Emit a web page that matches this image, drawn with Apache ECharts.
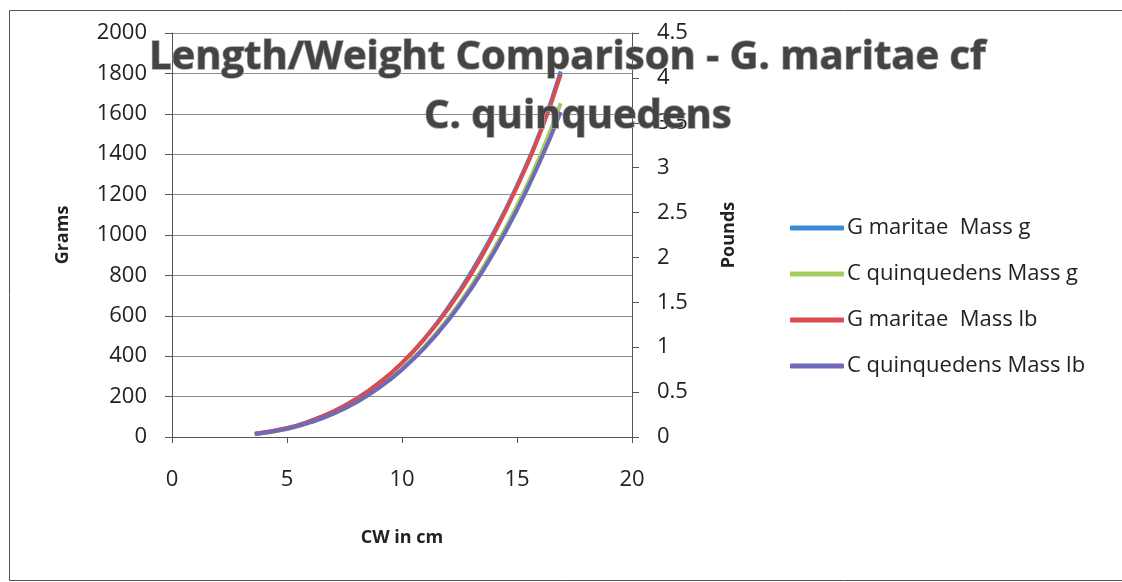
<!DOCTYPE html>
<html>
<head>
<meta charset="utf-8">
<script src="https://cdn.jsdelivr.net/npm/echarts@6/dist/echarts.min.js"></script>
<style>
html,body{margin:0;padding:0;background:#fff;}
#chart{width:1122px;height:582px;}
</style>
</head>
<body>
<div id="chart"></div>
<script>
// Carapace width (cm)
const cw = [3.6, 5, 6, 7, 8, 9, 10, 11, 12, 13, 14, 15, 16, 16.9];
// Mass values
const gMaritaeG = [15, 42, 78, 125, 188, 268, 366, 490, 640, 815, 1015, 1245, 1510, 1810];
const cQuinquedensG = [14, 40, 72, 115, 172, 246, 338, 450, 586, 746, 930, 1144, 1390, 1652];
const gMaritaeLb = [0.035, 0.10, 0.178, 0.283, 0.422, 0.60, 0.825, 1.10, 1.425, 1.81, 2.265, 2.785, 3.38, 4.04];
const cQuinquedensLb = [0.033, 0.092, 0.162, 0.257, 0.384, 0.547, 0.75, 0.998, 1.296, 1.648, 2.058, 2.53, 3.07, 3.62];
const seriesNames = ['G maritae  Mass g', 'C quinquedens Mass g', 'G maritae  Mass lb', 'C quinquedens Mass lb'];
const titleLine1 = 'Length/Weight Comparison - G. maritae cf';
const titleLine2 = 'C. quinquedens';

const pair = (xs, ys) => xs.map((x, i) => [x, ys[i]]);
const FONT = "'Open Sans', sans-serif";
const colors = ['#3B8BD9', '#A3CC5A', '#DC4B4F', '#6E6AB8'];

const chart = echarts.init(document.getElementById('chart'), null, {renderer: 'canvas'});
const axisCol = '#555';
const titleStyle = {
  fontFamily: FONT, fontWeight: 'bold', fontSize: 40, color: '#444',
  textBorderColor: '#a0a0a0', textBorderWidth: 1.5
};
const labelStyle = {fontFamily: FONT, fontSize: 22, color: '#222'};
const nameStyle = {fontFamily: FONT, fontWeight: 'bold', fontSize: 18, color: '#222'};
chart.setOption({
  animation: false,
  backgroundColor: '#fff',
  color: colors,
  graphic: [{
    type: 'rect', left: 7, top: 8, z: -10,
    shape: {width: 1130, height: 570},
    style: {fill: 'none', stroke: '#555', lineWidth: 1}
  }],
  title: [
    {text: titleLine1, left: 149, top: 38, padding: 0, textStyle: titleStyle, z: 10},
    {text: titleLine2, left: 424, top: 97, padding: 0, textStyle: titleStyle, z: 10}
  ],
  legend: {
    orient: 'vertical', left: 785, top: 212,
    itemWidth: 54, itemHeight: 5, itemGap: 24,
    icon: 'roundRect',
    textStyle: {fontFamily: FONT, fontSize: 22, color: '#222', lineHeight: 22, padding: [0, 0, 0, -2]},
    data: seriesNames
  },
  grid: {left: 172, right: 490, top: 33, bottom: 145, containLabel: false},
  xAxis: {
    type: 'value', min: 0, max: 20, interval: 5,
    name: 'CW in cm', nameLocation: 'middle', nameGap: 92,
    nameTextStyle: nameStyle,
    axisLine: {show: true, onZero: false, lineStyle: {color: axisCol, width: 1}},
    axisTick: {show: true, inside: false, length: 6, lineStyle: {color: axisCol}},
    axisLabel: Object.assign({margin: 32}, labelStyle),
    splitLine: {show: false}
  },
  yAxis: [{
    type: 'value', min: 0, max: 2000, interval: 200, position: 'left',
    name: 'Grams', nameLocation: 'middle', nameGap: 100, nameRotate: 90,
    nameTextStyle: nameStyle,
    axisLine: {show: true, lineStyle: {color: axisCol, width: 1}},
    axisTick: {show: true, inside: false, length: 7, lineStyle: {color: axisCol}},
    axisLabel: Object.assign({margin: 25, formatter: v => String(v)}, labelStyle),
    splitLine: {show: true, lineStyle: {color: '#8a8a8a', width: 1}}
  }, {
    type: 'value', min: 0, max: 4.5, interval: 0.5, position: 'right',
    name: 'Pounds', nameLocation: 'middle', nameGap: 88, nameRotate: 90,
    nameTextStyle: nameStyle,
    axisLine: {show: true, lineStyle: {color: axisCol, width: 1}},
    axisTick: {show: true, inside: false, length: 7, lineStyle: {color: axisCol}},
    axisLabel: Object.assign({margin: 25, formatter: v => String(v)}, labelStyle),
    splitLine: {show: false}
  }],
  series: [
    {name: seriesNames[0], type: 'line', yAxisIndex: 0, smooth: true, showSymbol: false, symbol: 'none',
     lineStyle: {width: 4, color: colors[0]}, data: pair(cw, gMaritaeG)},
    {name: seriesNames[1], type: 'line', yAxisIndex: 0, smooth: true, showSymbol: false, symbol: 'none',
     lineStyle: {width: 4, color: colors[1]}, data: pair(cw, cQuinquedensG)},
    {name: seriesNames[2], type: 'line', yAxisIndex: 1, smooth: true, showSymbol: false, symbol: 'none',
     lineStyle: {width: 4, color: colors[2]}, data: pair(cw, gMaritaeLb)},
    {name: seriesNames[3], type: 'line', yAxisIndex: 1, smooth: true, showSymbol: false, symbol: 'none',
     lineStyle: {width: 4, color: colors[3]}, data: pair(cw, cQuinquedensLb)}
  ]
});
</script>
</body>
</html>
